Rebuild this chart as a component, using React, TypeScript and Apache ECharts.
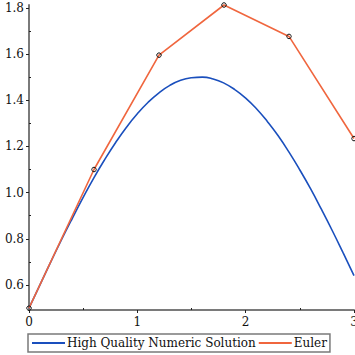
import React, { useEffect, useRef } from "react";
import * as echarts from "echarts";

const hqX = [0, 0.1, 0.2, 0.3, 0.4, 0.5, 0.6, 0.7, 0.8, 0.9, 1.0, 1.1, 1.2, 1.3, 1.4, 1.5, 1.6, 1.7, 1.8, 1.9, 2.0, 2.1, 2.2, 2.3, 2.4, 2.5, 2.6, 2.7, 2.8, 2.9, 3.0];
const hqY = [0.5, 0.6, 0.699, 0.796, 0.889, 0.979, 1.065, 1.144, 1.217, 1.283, 1.341, 1.391, 1.432, 1.464, 1.486, 1.497, 1.5, 1.492, 1.474, 1.446, 1.409, 1.363, 1.308, 1.246, 1.175, 1.098, 1.016, 0.927, 0.835, 0.739, 0.641];
const eulerX = [0, 0.6, 1.2, 1.8, 2.4, 3.0];
const eulerY = [0.5, 1.1, 1.595, 1.812, 1.676, 1.234];
const xTicks = [0, 1, 2, 3];
const xMinor = [0.5, 1.5, 2.5];
const yTicks = [0.6, 0.8, 1.0, 1.2, 1.4, 1.6, 1.8];
const yMinor = [0.7, 0.9, 1.1, 1.3, 1.5, 1.7];
const seriesNames = ["High Quality Numeric Solution", "Euler"];

const FONT = "DejaVu Serif";
const AXIS_COLOR = "#7a7a7a";
const BLUE = "#1a4fbd";
const ORANGE = "#f0663e";
const X_MIN = 0, X_MAX = 3, Y_MIN = 0.492, Y_MAX = 1.812;

export default function App() {
  const ref = useRef<HTMLDivElement>(null);
  useEffect(() => {
    if (!ref.current) return;
    const chart = echarts.init(ref.current, null, { renderer: "svg" });
    const mainAxisCommon = {
      axisLine: { show: true, lineStyle: { color: AXIS_COLOR, width: 2 } },
      splitLine: { show: false },
    };
    chart.setOption({
      animation: false,
      backgroundColor: "#ffffff",
      grid: { left: 29, right: 1, top: 5, bottom: 45, containLabel: false, outerBoundsMode: "none" },
      xAxis: [
        {
          type: "value", min: X_MIN, max: X_MAX, position: "bottom",
          ...mainAxisCommon,
          axisTick: { show: true, length: 3, inside: false, lineStyle: { color: "#222", width: 1 }, customValues: xTicks },
          axisLabel: { show: true, customValues: xTicks, color: "#111", fontFamily: FONT, fontSize: 12, margin: 6, formatter: (v: number) => String(v) },
        },
        {
          type: "value", min: X_MIN, max: X_MAX, position: "bottom",
          axisLine: { show: false }, splitLine: { show: false }, axisLabel: { show: false },
          axisTick: { show: true, length: 2, inside: true, lineStyle: { color: "#222", width: 1 }, customValues: xMinor },
        },
      ],
      yAxis: [
        {
          type: "value", min: Y_MIN, max: Y_MAX, position: "left",
          ...mainAxisCommon,
          axisTick: { show: true, length: 3, inside: false, lineStyle: { color: "#222", width: 1 }, customValues: yTicks },
          axisLabel: { show: true, customValues: yTicks, color: "#111", fontFamily: FONT, fontSize: 12, margin: 5, formatter: (v: number) => v.toFixed(1) },
        },
        {
          type: "value", min: Y_MIN, max: Y_MAX, position: "left",
          axisLine: { show: false }, splitLine: { show: false }, axisLabel: { show: false },
          axisTick: { show: true, length: 2, inside: true, lineStyle: { color: "#222", width: 1 }, customValues: yMinor },
        },
      ],
      legend: {
        left: 28, top: 334,
        orient: "horizontal",
        padding: [2, 3, 2, 4],
        itemGap: 3,
        itemWidth: 33, itemHeight: 2,
        borderColor: AXIS_COLOR, borderWidth: 1.5,
        icon: "rect",
        textStyle: { fontFamily: FONT, fontSize: 12, color: "#111", padding: [0, 0, 0, -3], lineHeight: 14 },
        data: [
          { name: seriesNames[0], icon: "rect", itemStyle: { color: BLUE, borderWidth: 0 } },
          { name: seriesNames[1], icon: "rect", itemStyle: { color: ORANGE, borderWidth: 0 } },
        ],
      },
      series: [
        {
          name: seriesNames[0], type: "line", xAxisIndex: 0, yAxisIndex: 0,
          data: hqX.map((x, i) => [x, hqY[i]]),
          smooth: true, showSymbol: false, symbol: "none",
          lineStyle: { color: BLUE, width: 1.6 }, itemStyle: { color: BLUE },
        },
        {
          name: seriesNames[1], type: "line", xAxisIndex: 0, yAxisIndex: 0,
          data: eulerX.map((x, i) => [x, eulerY[i]]),
          symbol: "circle", symbolSize: 4.5, showSymbol: true, clip: false,
          lineStyle: { color: ORANGE, width: 1.6 },
          itemStyle: { color: "rgba(255,255,255,0)", borderColor: "#111", borderWidth: 1 },
          z: 3,
        },
      ],
    });
    return () => chart.dispose();
  }, []);
  return <div ref={ref} style={{ width: 355, height: 355, position: "absolute", left: 0, top: 0 }} />;
}
